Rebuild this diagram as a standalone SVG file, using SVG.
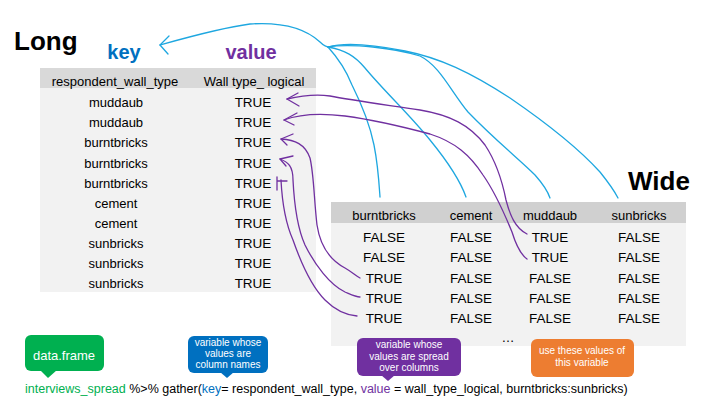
<svg xmlns="http://www.w3.org/2000/svg" width="720" height="405" viewBox="0 0 720 405">
<style>
.t{font-family:"Liberation Sans",Arial,sans-serif;font-size:13px;fill:#000;text-anchor:middle}
.v{font-size:13.5px}
.title{font-family:"Liberation Sans",Arial,sans-serif;font-weight:bold;font-size:26px;fill:#000}
.lbl{font-family:"Liberation Sans",Arial,sans-serif;font-weight:bold;font-size:20px;text-anchor:middle}
.bl{fill:none;stroke:#1ea7e0;stroke-width:1.3;stroke-linecap:round;stroke-linejoin:round}
.pu{fill:none;stroke:#7030a0;stroke-width:1.3;stroke-linecap:round;stroke-linejoin:round}
.ct{font-family:"Liberation Sans",Arial,sans-serif;font-size:10px;fill:#fff;text-anchor:middle}
.code{font-family:"Liberation Sans",Arial,sans-serif;font-size:12.5px;fill:#000}
</style>
<rect width="720" height="405" fill="#fff"/>

<g id="long-table">
<text class="title" x="14" y="50">Long</text>
<text class="lbl" x="124" y="59" fill="#0070c0">key</text>
<text class="lbl" x="251" y="59" fill="#7030a0">value</text>
<rect x="40" y="68" width="276" height="224" fill="#f2f2f2"/>
<rect x="40" y="68" width="276" height="20" fill="#d9d9d9"/>
<text class="t" x="115" y="86">respondent_wall_type</text>
<text class="t" x="254" y="86">Wall type_ logical</text>
<g>
<text class="t" x="116" y="107">muddaub</text>
<text class="t" x="116" y="127">muddaub</text>
<text class="t" x="116" y="147">burntbricks</text>
<text class="t" x="116" y="167.5">burntbricks</text>
<text class="t" x="116" y="187.5">burntbricks</text>
<text class="t" x="116" y="207.5">cement</text>
<text class="t" x="116" y="227.5">cement</text>
<text class="t" x="116" y="248">sunbricks</text>
<text class="t" x="116" y="268">sunbricks</text>
<text class="t" x="116" y="288">sunbricks</text>
</g>
<g>
<text class="t v" x="253" y="107">TRUE</text>
<text class="t v" x="253" y="127">TRUE</text>
<text class="t v" x="253" y="147">TRUE</text>
<text class="t v" x="253" y="167.5">TRUE</text>
<text class="t v" x="253" y="187.5">TRUE</text>
<text class="t v" x="253" y="207.5">TRUE</text>
<text class="t v" x="253" y="227.5">TRUE</text>
<text class="t v" x="253" y="248">TRUE</text>
<text class="t v" x="253" y="268">TRUE</text>
<text class="t v" x="253" y="288">TRUE</text>
</g>
</g>

<g id="wide-table">
<text class="title" x="628" y="190">Wide</text>
<rect x="331" y="202" width="355" height="144" fill="#f2f2f2"/>
<rect x="331" y="202" width="355" height="21" fill="#d0d0d0"/>
<text class="t" x="384" y="220">burntbricks</text>
<text class="t" x="471" y="220">cement</text>
<text class="t" x="550" y="220">muddaub</text>
<text class="t" x="639" y="220">sunbricks</text>
<g>
<text class="t v" x="384" y="242">FALSE</text><text class="t v" x="471" y="242">FALSE</text><text class="t v" x="550" y="242">TRUE</text><text class="t v" x="639" y="242">FALSE</text>
<text class="t v" x="384" y="262">FALSE</text><text class="t v" x="471" y="262">FALSE</text><text class="t v" x="550" y="262">TRUE</text><text class="t v" x="639" y="262">FALSE</text>
<text class="t v" x="384" y="282.5">TRUE</text><text class="t v" x="471" y="282.5">FALSE</text><text class="t v" x="550" y="282.5">FALSE</text><text class="t v" x="639" y="282.5">FALSE</text>
<text class="t v" x="384" y="303">TRUE</text><text class="t v" x="471" y="303">FALSE</text><text class="t v" x="550" y="303">FALSE</text><text class="t v" x="639" y="303">FALSE</text>
<text class="t v" x="384" y="323">TRUE</text><text class="t v" x="471" y="323">FALSE</text><text class="t v" x="550" y="323">FALSE</text><text class="t v" x="639" y="323">FALSE</text>
</g>
<text class="t" x="508" y="342">…</text>
</g>

<g id="connectors">
<path class="bl" d="M160,45 C185,38 220,28 250,24 C280,22 305,28 320,42 C324,46 328,48 332,47"/>
<path class="bl" d="M169,36 L160,45 L168,54"/>
<path class="bl" d="M328,47 C345,42 370,44 405,51 C440,58 470,72 510,98 C545,122 580,150 600,172 C608,182 614,190 618,198"/>
<path class="bl" d="M328,47 C350,43 395,48 420,56 C440,66 450,90 468,112 C495,140 520,160 535,175 C543,184 548,192 550,198"/>
<path class="bl" d="M328,47 C345,50 355,56 365,68 C385,92 410,115 430,140 C448,162 460,180 466,197"/>
<path class="bl" d="M328,47 C338,58 346,70 352,85 C362,105 370,125 374,145 C378,165 379,182 380,197"/>

<path class="pu" d="M287,99 C300,96 315,94 330,96 C350,100 380,104 420,110 C450,115 470,125 485,145 C495,160 502,180 506,200 C510,215 515,228 527,234"/>
<path class="pu" d="M298,93 L287,99 L299,106"/>
<path class="pu" d="M284,120 C300,114 320,113 345,116 C375,120 400,126 430,134 C455,142 470,155 483,175 C495,192 505,215 512,232 C516,245 520,254 527,259"/>
<path class="pu" d="M297,113 L284,120 L294,125"/>
<path class="pu" d="M281,139 C295,140 305,144 310,158 C314,175 314,200 317,225 C320,245 330,260 345,268 C352,272 356,276 360,278"/>
<path class="pu" d="M293,134 L281,139 L287,145"/>
<path class="pu" d="M280,159 C288,162 293,166 293,180 C294,200 296,225 305,245 C315,265 330,285 345,292 C352,295 356,297 360,297"/>
<path class="pu" d="M293,156 L280,159 L286,166"/>
<path class="pu" d="M281,180 C282,200 285,222 293,240 C300,260 310,285 325,300 C335,310 345,315 357,316"/>
<path class="pu" d="M277,177 L277,190 M277,181 L287,181"/>
</g>

<g id="callout-dataframe">
<rect x="25" y="335" width="79" height="36" rx="6" fill="#00b050"/>
<path d="M40,370 L48,378 L57,370 Z" fill="#00b050"/>
<text x="64" y="360" font-family="Liberation Sans,Arial,sans-serif" font-size="13" fill="#fff" text-anchor="middle">data.frame</text>
</g>
<g id="callout-key">
<rect x="188" y="336" width="80" height="37" rx="6" fill="#0070c0"/>
<path d="M220,372 L227,378 L234,372 Z" fill="#0070c0"/>
<text class="ct" x="228" y="346">variable whose</text>
<text class="ct" x="228" y="357">values are</text>
<text class="ct" x="228" y="368">column names</text>
</g>
<g id="callout-value">
<rect x="357" y="338" width="104" height="38" rx="6" fill="#7030a0"/>
<path d="M381,375 L388,381 L395,375 Z" fill="#7030a0"/>
<text class="ct" x="409" y="348">variable whose</text>
<text class="ct" x="409" y="359.5">values are spread</text>
<text class="ct" x="409" y="371">over columns</text>
</g>
<g id="callout-columns">
<rect x="531" y="339" width="103" height="38" rx="6" fill="#ed7d31"/>
<text class="ct" x="582" y="354">use these values of</text>
<text class="ct" x="582" y="366">this variable</text>
</g>

<g id="code">
<text class="code" x="25" y="393"><tspan fill="#00b050">interviews_spread</tspan> %&gt;% gather(<tspan fill="#0070c0">key</tspan>= respondent_wall_type, <tspan fill="#7030a0">value</tspan> =  wall_type_logical, burntbricks:sunbricks)</text>
</g>
</svg>
